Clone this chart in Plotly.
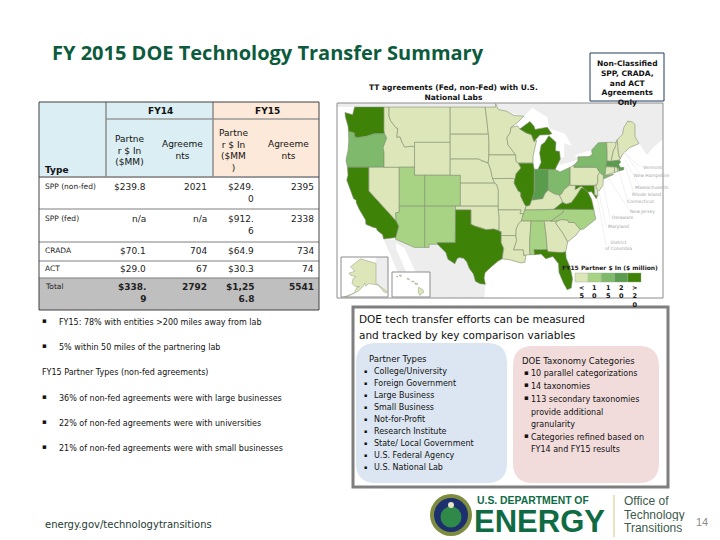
import numpy as np
import plotly.graph_objects as go

# ---------- data ----------
TITLE = "FY 2015 DOE Technology Transfer Summary"
table_types = ["SPP (non-fed)", "SPP (fed)", "CRADA", "ACT", "Total"]
fy14_partner = ["$239.8", "n/a", "$70.1", "$29.0", "$338.<br>9"]
fy14_agreements = ["2021", "n/a", "704", "67", "2792"]
fy15_partner = ["$249.<br>0", "$912.<br>6", "$64.9", "$30.3", "$1,25<br>6.8"]
fy15_agreements = ["2395", "2338", "734", "74", "5541"]

left_lines = ["FY15: 78% with entities >200 miles away from lab",
              "5% within 50 miles of the partnering lab",
              "FY15 Partner Types (non-fed agreements)",
              "36% of non-fed agreements were with large businesses",
              "22% of non-fed agreements were with universities",
              "21% of non-fed agreements were with small businesses"]
partner_types = ["College/University", "Foreign Government", "Large Business", "Small Business",
                 "Not-for-Profit", "Research Institute", "State/ Local Government",
                 "U.S. Federal Agency", "U.S. National Lab"]
taxonomy_lines = ["10 parallel categorizations", "14 taxonomies", "113 secondary taxonomies",
                  "provide additional", "granularity", "Categories refined based on",
                  "FY14 and FY15 results"]
legend_labels = ["&lt;<br>5", "1<br>0", "1<br>5", "2<br>0", "&gt;<br>2<br>0"]
map_colors = ["#dde6b8", "#a9d384", "#7fb96c", "#5a9c4e", "#3f8208"]

state_class = dict(WA=4, OR=2, CA=4, NV=0, ID=0, MT=0, WY=0, UT=1, CO=1, AZ=1, NM=1, ND=0, SD=0, NE=0, KS=0,
                   OK=0, TX=4, MN=0, IA=0, MO=0, AR=0, LA=0, WI=0, IL=4, IN=3, MI=4, OH=2, KY=0, TN=1, MS=0,
                   AL=1, GA=0, FL=4, SC=0, NC=1, VA=4, WV=0, MD=4, DE=0, PA=0, NJ=0, NY=2, VT=0, NH=0, ME=0,
                   MA=3, RI=0, CT=0)

state_outlines = {
 "WA": [[(-124.7,48.4),(-123.2,48.15),(-122.8,49),(-117.03,49),(-117.04,46.42),(-116.92,46),(-118.98,46),(-119.3,45.93),(-120.5,45.7),(-121.2,45.65),(-122.3,45.55),(-122.75,45.65),(-122.9,46.1),(-123.4,46.2),(-124,46.27),(-124.1,46.9),(-124.6,47.9)]],
 "OR": [[(-124,46.27),(-123.4,46.2),(-122.9,46.1),(-122.75,45.65),(-122.3,45.55),(-121.2,45.65),(-120.5,45.7),(-119.3,45.93),(-118.98,46),(-116.92,46),(-116.5,45.5),(-116.85,44.95),(-117.2,44.4),(-117.03,43.8),(-117.03,42),(-124.2,42),(-124.5,42.85),(-124.1,44),(-123.95,45.2)]],
 "CA": [[(-124.2,42),(-120,42),(-120,39),(-114.63,35),(-114.13,34.3),(-114.5,33.4),(-114.72,32.72),(-117.12,32.53),(-117.3,33.1),(-118.4,33.75),(-118.5,34.03),(-119.2,34.15),(-120.6,34.55),(-120.65,35.15),(-121.9,36.6),(-122.5,37.5),(-122.5,37.8),(-123,38),(-123.8,39.3),(-124.35,40.4),(-124.1,41)]],
 "NV": [[(-120,42),(-114.04,42),(-114.04,36.2),(-114.75,36.1),(-114.63,35),(-120,39)]],
 "ID": [[(-117.03,49),(-116.05,49),(-116.05,48),(-115.7,47.45),(-114.7,46.7),(-114.35,46.65),(-114.5,45.6),(-113.9,45.65),(-113.45,44.95),(-113,44.45),(-111.5,44.55),(-111.05,44.48),(-111.05,42),(-117.03,42),(-117.03,43.8),(-117.2,44.4),(-116.85,44.95),(-116.5,45.5),(-116.92,46),(-117.04,46.42)]],
 "MT": [[(-116.05,49),(-104.05,49),(-104.05,45),(-111.05,45),(-111.05,44.48),(-111.5,44.55),(-113,44.45),(-113.45,44.95),(-113.9,45.65),(-114.5,45.6),(-114.35,46.65),(-114.7,46.7),(-115.7,47.45),(-116.05,48)]],
 "WY": [[(-111.05,45),(-104.05,45),(-104.05,41),(-111.05,41)]],
 "UT": [[(-114.04,42),(-111.05,42),(-111.05,41),(-109.05,41),(-109.05,37),(-114.04,37)]],
 "CO": [[(-109.05,41),(-102.05,41),(-102.05,37),(-109.05,37)]],
 "AZ": [[(-114.04,37),(-109.05,37),(-109.05,31.33),(-111.07,31.33),(-114.8,32.5),(-114.72,32.72),(-114.5,33.4),(-114.13,34.3),(-114.63,35),(-114.75,36.1),(-114.04,36.2)]],
 "NM": [[(-109.05,37),(-103,37),(-103.05,32),(-106.6,32),(-106.53,31.78),(-108.2,31.78),(-108.2,31.33),(-109.05,31.33)]],
 "ND": [[(-104.05,49),(-97.2,49),(-96.85,47.5),(-96.55,45.95),(-104.05,45.95)]],
 "SD": [[(-104.05,45.95),(-96.55,45.95),(-96.45,45.3),(-96.45,43.5),(-96.6,42.5),(-97.9,42.8),(-98.5,43),(-104.05,43)]],
 "NE": [[(-104.05,43),(-98.5,43),(-97.9,42.8),(-96.6,42.5),(-96.1,41.7),(-95.9,41),(-95.3,40),(-102.05,40),(-102.05,41),(-104.05,41)]],
 "KS": [[(-102.05,40),(-95.3,40),(-94.9,39.8),(-94.6,39.1),(-94.62,37),(-102.05,37)]],
 "OK": [[(-103,37),(-94.62,37),(-94.43,35.4),(-94.48,33.64),(-95.5,33.9),(-97,33.8),(-98.1,34.1),(-99.2,34.3),(-100,34.56),(-100,36.5),(-103,36.5)]],
 "TX": [[(-106.53,31.78),(-106.6,32),(-103.05,32),(-103,36.5),(-100,36.5),(-100,34.56),(-99.2,34.3),(-98.1,34.1),(-97,33.8),(-95.5,33.9),(-94.04,33.55),(-94.04,31.99),(-93.55,31.2),(-93.85,29.7),(-94.7,29.35),(-95.9,28.6),(-97.2,27.7),(-97.4,26.9),(-97.15,25.95),(-98.2,26.05),(-99.1,26.4),(-99.5,27.5),(-100.3,28.3),(-100.8,29.25),(-101.4,29.77),(-102.3,29.88),(-102.7,29.7),(-103.15,28.98),(-104.5,29.65),(-104.9,30.6)]],
 "MN": [[(-97.2,49),(-95.15,49),(-95.15,49.38),(-94.6,48.72),(-93,48.55),(-91.5,48.07),(-89.6,48),(-90.8,47.3),(-92.1,46.75),(-92.3,46.1),(-92.9,45.6),(-92.75,44.75),(-91.2,43.5),(-96.45,43.5),(-96.45,45.3),(-96.55,45.95),(-96.85,47.5)]],
 "IA": [[(-96.45,43.5),(-91.2,43.5),(-91.1,42.7),(-90.65,42.5),(-90.15,41.9),(-91.1,41.2),(-91.4,40.4),(-91.7,40.6),(-95.75,40.58),(-95.9,41),(-96.1,41.7),(-96.6,42.5)]],
 "MO": [[(-95.75,40.58),(-91.7,40.6),(-91.4,40.4),(-91.5,40),(-90.7,39),(-90.2,38.8),(-90.2,38.3),(-89.5,37.3),(-89.15,37),(-89.7,36),(-90.37,36),(-90.15,36.5),(-94.62,36.5),(-94.62,37),(-94.6,39.1),(-94.9,39.8),(-95.3,40)]],
 "AR": [[(-94.62,36.5),(-90.15,36.5),(-90.37,36),(-89.7,36),(-90.1,35),(-90.6,34.7),(-91.1,33.9),(-91.17,33),(-94.04,33),(-94.04,33.55),(-94.48,33.64),(-94.43,35.4)]],
 "LA": [[(-94.04,33),(-91.17,33),(-91,32.3),(-91.6,31),(-89.73,31),(-89.6,30.2),(-89.2,30.15),(-89.4,29.2),(-90.2,29.1),(-91.3,29.3),(-92.3,29.55),(-93.85,29.7),(-93.55,31.2),(-94.04,31.99)]],
 "WI": [[(-92.1,46.75),(-90.8,46.9),(-90.4,46.55),(-89.1,46.1),(-88.1,45.9),(-87.6,45.1),(-87.1,45.25),(-87.5,44.3),(-87.8,43.3),(-87.8,42.5),(-90.65,42.5),(-91.1,42.7),(-91.2,43.5),(-92.75,44.75),(-92.9,45.6),(-92.3,46.1)]],
 "IL": [[(-90.65,42.5),(-87.8,42.5),(-87.55,41.7),(-87.53,39.3),(-87.6,38.7),(-88.05,37.8),(-88.45,37.1),(-89.15,37),(-89.5,37.3),(-90.2,38.3),(-90.2,38.8),(-90.7,39),(-91.5,40),(-91.4,40.4),(-91.1,41.2),(-90.15,41.9)]],
 "IN": [[(-87.53,41.75),(-86.8,41.76),(-84.8,41.76),(-84.82,39.1),(-85.4,38.7),(-85.9,38),(-86.8,37.95),(-88.05,37.8),(-87.6,38.7),(-87.53,39.3)]],
 "OH": [[(-84.8,41.72),(-83.45,41.73),(-82.5,41.4),(-81.3,41.75),(-80.52,42),(-80.52,40.64),(-80.7,39.7),(-81.7,39.2),(-82.2,38.6),(-82.6,38.45),(-83.7,38.65),(-84.82,39.1)]],
 "MI": [[(-86.8,41.76),(-84.8,41.76),(-83.45,41.73),(-83.1,42.2),(-82.45,43),(-82.6,43.9),(-83.4,44),(-83.3,45),(-84.7,45.78),(-85.5,45),(-86.2,44.7),(-86.5,43.7),(-86.2,42.6)],
        [(-90.4,46.55),(-88.4,47.4),(-87.6,46.85),(-87.4,46.5),(-85,46.75),(-84.1,46),(-84.8,45.9),(-86.5,45.85),(-87.6,45.1),(-88.1,45.9),(-89.1,46.1)]],
 "KY": [[(-89.15,37),(-88.45,37.1),(-88.05,37.8),(-86.8,37.95),(-85.9,38),(-85.4,38.7),(-84.82,39.1),(-83.7,38.65),(-82.6,38.45),(-81.97,37.54),(-83.68,36.6),(-88.05,36.5),(-89.4,36.5)]],
 "TN": [[(-90.1,35),(-89.7,36),(-89.4,36.5),(-88.05,36.5),(-83.68,36.6),(-81.68,36.59),(-82,36.1),(-84.32,35)]],
 "MS": [[(-91.17,33),(-91.1,33.9),(-90.6,34.7),(-90.1,35),(-88.2,35),(-88.47,31.9),(-88.4,30.3),(-89.6,30.2),(-89.73,31),(-91.6,31),(-91,32.3)]],
 "AL": [[(-88.2,35),(-85.6,35),(-85.2,32.9),(-85,31),(-87.6,31),(-87.5,30.3),(-88.4,30.3),(-88.47,31.9)]],
 "GA": [[(-85.6,35),(-83.1,35),(-83.35,34.7),(-81.9,33.3),(-81,32.1),(-81.4,30.7),(-82,30.6),(-82.2,30.57),(-84.86,30.7),(-85,31),(-85.2,32.9)]],
 "FL": [[(-87.6,31),(-85,31),(-84.86,30.7),(-82.2,30.57),(-82,30.6),(-81.4,30.7),(-81.3,29.8),(-80.5,28.4),(-80.05,26.8),(-80.3,25.4),(-81.1,25.15),(-81.8,26.1),(-82.7,27.7),(-82.8,29),(-83.9,30.05),(-85.3,29.7),(-86.2,30.4),(-87.5,30.3)]],
 "SC": [[(-83.1,35),(-82.3,35.2),(-81,35.15),(-80.8,34.82),(-79.67,34.8),(-78.55,33.85),(-79.3,33.1),(-81,32.1),(-81.9,33.3),(-83.35,34.7)]],
 "NC": [[(-84.32,35),(-82,36.1),(-81.68,36.59),(-75.87,36.55),(-75.5,35.25),(-76.5,34.7),(-77.9,33.9),(-78.55,33.85),(-79.67,34.8),(-80.8,34.82),(-81,35.15),(-82.3,35.2),(-83.1,35)]],
 "VA": [[(-83.68,36.6),(-81.97,37.54),(-81.3,37.3),(-80.3,37.5),(-79.3,38.4),(-78.35,39.4),(-77.75,39.3),(-77.05,38.85),(-76.3,37.9),(-76,37),(-75.87,36.55),(-81.68,36.59)]],
 "WV": [[(-81.97,37.54),(-82.6,38.45),(-82.2,38.6),(-81.7,39.2),(-80.7,39.7),(-80.52,40.64),(-80.52,39.72),(-79.48,39.72),(-79.48,39.2),(-78.35,39.65),(-77.75,39.3),(-78.35,39.4),(-79.3,38.4),(-80.3,37.5),(-81.3,37.3)]],
 "MD": [[(-79.48,39.72),(-75.79,39.72),(-75.7,38.46),(-75.05,38.45),(-75.4,38),(-76.3,38.9),(-77.05,38.85),(-77.75,39.3),(-78.35,39.65),(-79.48,39.2)]],
 "DE": [[(-75.79,39.72),(-75.4,39.8),(-75.05,38.45),(-75.7,38.46)]],
 "PA": [[(-80.52,42),(-79.76,42.27),(-79.76,42),(-75.35,42),(-74.7,41.36),(-75.1,40.95),(-75.1,40.1),(-75.4,39.8),(-75.79,39.72),(-80.52,39.72)]],
 "NJ": [[(-74.7,41.36),(-74,40.98),(-74,40.5),(-74.1,39.7),(-74.9,38.95),(-75.5,39.5),(-75.1,40.1),(-75.1,40.95)]],
 "NY": [[(-79.76,42.27),(-79,42.75),(-79,43.27),(-76.8,43.3),(-76.2,43.55),(-76.3,44.1),(-75,44.95),(-73.35,45),(-73.25,43.6),(-73.27,42.75),(-73.5,42.05),(-73.65,41),(-72,41.1),(-73.9,40.55),(-74,40.98),(-74.7,41.36),(-75.35,42),(-79.76,42)]],
 "VT": [[(-73.35,45),(-71.5,45),(-71.6,44.5),(-72.05,44),(-72.46,42.73),(-73.27,42.75),(-73.25,43.6)]],
 "NH": [[(-71.5,45),(-71.3,45.3),(-70.97,43.4),(-70.7,43.05),(-70.85,42.87),(-72.46,42.73),(-72.05,44),(-71.6,44.5)]],
 "ME": [[(-71.3,45.3),(-70.25,45.95),(-70,46.7),(-69.2,47.45),(-68.3,47.35),(-67.8,47.05),(-67.8,45.7),(-67,44.85),(-68.8,44.4),(-70.2,43.6),(-70.7,43.05),(-70.97,43.4)]],
 "MA": [[(-73.5,42.05),(-73.27,42.75),(-72.46,42.73),(-70.85,42.87),(-70.6,42.65),(-71,42.3),(-70.6,41.95),(-70,42),(-70,41.7),(-71.12,41.5),(-71.38,42.02),(-71.8,42.02)]],
 "RI": [[(-71.8,42.02),(-71.38,42.02),(-71.12,41.5),(-71.85,41.32)]],
 "CT": [[(-73.5,42.05),(-71.8,42.02),(-71.85,41.32),(-73.65,41)]],
}
neighbour_land = [
 [(-127,49),(-123,49),(-95.15,49),(-94.6,48.72),(-89.6,48),(-88,48.9),(-85,47.9),(-84.6,46.6),(-81.5,46),(-80.2,44.6),(-81.7,44.9),(-81.7,43.3),(-82.45,43),(-83.1,42.2),(-80,42.7),(-79,43),(-79.6,43.5),(-76.3,44.1),(-75,44.95),(-73.35,45),(-71.5,45),(-71.3,45.3),(-70.25,45.95),(-70,46.7),(-69.2,47.45),(-68.3,47.35),(-67.8,47.05),(-67.8,45.7),(-67,44.9),(-65.5,43.5),(-64,44.5),(-62,45.5),(-62,51),(-127,51)],
 [(-114.8,32.5),(-111.07,31.33),(-108.2,31.33),(-108.2,31.78),(-106.53,31.78),(-104.9,30.6),(-104.5,29.65),(-103.15,28.98),(-102.7,29.7),(-102.3,29.88),(-101.4,29.77),(-100.8,29.25),(-100.3,28.3),(-99.5,27.5),(-99.1,26.4),(-98.2,26.05),(-97.15,25.95),(-97.7,20),(-105,20),(-109,25),(-111,28),(-113,31.2),(-114.8,32)],
 [(-117.12,32.53),(-114.8,32.4),(-114.6,31),(-112.5,27.5),(-110,23.5),(-112,24.8),(-114.5,28),(-116,30.5)],
]
alaska = [[(-141,69.65),(-141,60.3),(-139,59.9),(-137,58.9),(-135,58.2),(-130,55.9),(-131,55),(-133.5,56),(-136,58),(-139.5,59.7),(-144,60),(-148,60.5),(-151.5,59.2),(-152,60.8),(-154,59),(-158,56.5),(-163,54.9),(-160,58.5),(-157.5,58.8),(-162,59),(-165,60.5),(-164,63),(-161,64),(-166.5,64.6),(-168,65.6),(-162,66.5),(-166.5,68.3),(-156.5,71.3),(-148,70.4)],
          [(-163,54.9),(-168,53.5),(-176,51.8),(-168,53.2)]]
alaska_neighbour = [(-141,73),(-129,73),(-129,55),(-130,55.9),(-135,58.2),(-137,58.9),(-139,59.9),(-141,60.3)]
hawaii = [[(-155.9,20.25),(-155.1,19.9),(-154.8,19.5),(-155.65,18.95),(-155.95,19.5)],
          [(-156.7,20.95),(-156,20.8),(-156.4,20.6)],
          [(-157.3,21.2),(-156.75,21.18),(-157.2,21.05)],
          [(-158.25,21.55),(-157.7,21.4),(-158,21.7)],
          [(-159.8,22.1),(-159.3,22.15),(-159.45,21.88)],
          [(-160.25,22),(-160.05,21.98),(-160.15,21.8)]]
east_labels = ["Vermont", "New Hampshire", "Massachusetts", "Rhode Island", "Connecticut",
               "New Jersey", "Delaware", "Maryland", "District<br>of Columbia"]

# ---------- layout constants ----------
W, H = 720, 540
BODY = "DejaVu Sans"
px = lambda x: x / W
py = lambda y: 1 - y / H
merc = lambda lat: np.log(np.tan(np.pi / 4 + np.radians(lat) / 2))

annotations, shapes = [], []


def text(x, y, s, size=8, color="#111111", anchor="left", bold=False, font=BODY, valign="middle", height=None):
    a = dict(x=px(x), y=py(y), xref="paper", yref="paper", text=f"<b>{s}</b>" if bold else s,
             showarrow=False, xanchor=anchor, yanchor=valign, align=anchor,
             font=dict(size=size, color=color, family=font), borderpad=0, borderwidth=0)
    if height:
        a["height"] = height
    annotations.append(a)


def rect(x0, y0, x1, y1, fill="rgba(0,0,0,0)", line=None, lw=1, layer="above"):
    shapes.append(dict(type="rect", xref="paper", yref="paper", x0=px(x0), x1=px(x1), y0=py(y0), y1=py(y1),
                       fillcolor=fill, line=dict(color=line or "rgba(0,0,0,0)", width=lw if line else 0), layer=layer))


def hline(x0, x1, y, color="#808080", lw=1):
    shapes.append(dict(type="line", xref="paper", yref="paper", x0=px(x0), x1=px(x1), y0=py(y), y1=py(y),
                       line=dict(color=color, width=lw)))


def vline(x, y0, y1, color="#808080", lw=1):
    shapes.append(dict(type="line", xref="paper", yref="paper", x0=px(x), x1=px(x), y0=py(y0), y1=py(y1),
                       line=dict(color=color, width=lw)))


def seg(x0, y0, x1, y1, color="#e2e2e2", lw=0.5):
    shapes.append(dict(type="line", xref="paper", yref="paper", x0=px(x0), x1=px(x1), y0=py(y0), y1=py(y1),
                       line=dict(color=color, width=lw)))


def circle(cx, cy, r, fill, line=None, lw=0):
    shapes.append(dict(type="circle", xref="paper", yref="paper", x0=px(cx - r), x1=px(cx + r),
                       y0=py(cy + r), y1=py(cy - r), fillcolor=fill,
                       line=dict(color=line or fill, width=lw)))


def rounded(x0, y0, x1, y1, r, fill):
    p = (f"M {px(x0+r)} {py(y0)} L {px(x1-r)} {py(y0)} Q {px(x1)} {py(y0)} {px(x1)} {py(y0+r)} "
         f"L {px(x1)} {py(y1-r)} Q {px(x1)} {py(y1)} {px(x1-r)} {py(y1)} L {px(x0+r)} {py(y1)} "
         f"Q {px(x0)} {py(y1)} {px(x0)} {py(y1-r)} L {px(x0)} {py(y0+r)} Q {px(x0)} {py(y0)} {px(x0+r)} {py(y0)} Z")
    shapes.append(dict(type="path", xref="paper", yref="paper", path=p, fillcolor=fill, line=dict(width=0), layer="below"))


def ring_xy(polys):
    xs, ys = [], []
    for poly in polys:
        a = np.array(poly + [poly[0]], dtype=float)
        xs += [float(v) for v in a[:, 0]] + [None]
        ys += [float(v) for v in merc(a[:, 1])] + [None]
    return xs, ys


fig = go.Figure()


def add_land(polys, fill, line, lw=0.6, ax=""):
    x, y = ring_xy(polys)
    fig.add_trace(go.Scatter(x=x, y=y, mode="lines", fill="toself", fillcolor=fill,
                             line=dict(color=line, width=lw), hoverinfo="skip", showlegend=False,
                             xaxis="x" + ax, yaxis="y" + ax))


# ---------- map ----------
add_land(neighbour_land, "#ededed", "#ededed", 0)
for st, polys in state_outlines.items():
    add_land(polys, map_colors[state_class[st]], "#7f8f72", 0.6)

AX = dict(visible=True, showticklabels=False, ticks="", showgrid=False, zeroline=False, showline=False,
          fixedrange=True, autorange=False)
MAP_X, MAP_Y = (337, 663), (103, 298)
AK_X, AK_Y = (341, 388), (257, 297)
HI_X, HI_Y = (392, 430), (272, 297)
ak_range, hi_range = (-176, -129), (-161.2, -153.6)
ak_merc, hi_merc = (1.08, 1.838), (0.3325, 0.4055)


def box(rng_x, rng_y):
    return [(rng_x[0], rng_y[0]), (rng_x[1], rng_y[0]), (rng_x[1], rng_y[1]), (rng_x[0], rng_y[1]), (rng_x[0], rng_y[0])]


for ax, rx, ry in (("2", ak_range, ak_merc), ("3", hi_range, hi_merc)):
    b = box(rx, ry)
    fig.add_trace(go.Scatter(x=[p[0] for p in b], y=[p[1] for p in b], mode="lines", fill="toself",
                             fillcolor="white", line=dict(width=0), hoverinfo="skip", showlegend=False,
                             xaxis="x" + ax, yaxis="y" + ax))
add_land([alaska_neighbour], "#ededed", "#ededed", 0, "2")
add_land(alaska, map_colors[0], "#8f9c80", 0.5, "2")
add_land(hawaii, map_colors[0], "#8f9c80", 0.5, "3")

rect(MAP_X[0], MAP_Y[0], MAP_X[1], MAP_Y[1], line="#8c8c8c", lw=1)
rect(AK_X[0], AK_Y[0], AK_X[1], AK_Y[1], line="#8c8c8c", lw=1)
rect(HI_X[0], HI_Y[0], HI_X[1], HI_Y[1], line="#8c8c8c", lw=1)

# faint call-outs on the east coast
label_pos = [(652, 167), (652, 175), (652, 187), (646, 194), (640, 202), (642, 211), (622, 218), (618, 226), (618, 245)]
label_src = [(613, 142), (620, 146), (625, 160), (625, 165), (618, 168), (608, 178), (603, 183), (598, 188), (596, 190)]
for name, (lx, ly), (sx, sy) in zip(east_labels, label_pos, label_src):
    text(lx, ly, name, size=4.5, color="#a5a5a5", anchor="center")
    seg(sx, sy, lx - 12, ly)

# map legend
text(610, 267, "FY15 Partner $ In ($ million)", size=6, anchor="center", bold=True, color="#222222")
for i, (c, lab) in enumerate(zip(map_colors, legend_labels)):
    x0 = 575 + i * 13.2
    rect(x0, 273, x0 + 13.2, 282, fill=c, line="#9aa98a", lw=0.4)
    text(x0 + 6.6, 284, lab, size=6.5, anchor="center", bold=True, valign="top")

# map headings
text(453, 92, "TT agreements (Fed, non-Fed) with U.S.<br>National Labs", size=7.5, anchor="center", bold=True)
rect(590, 53, 664, 101, line="#1f3a5f", lw=1)
text(627, 83, "Non-Classified<br>SPP, CRADA,<br>and ACT<br>Agreements<br>Only", size=7.5, anchor="center", bold=True)

# ---------- title ----------
text(52, 53, TITLE, size=20, color="#0c5b3d", bold=True, font="Open Sans")

# ---------- table ----------
rect(39, 102, 213, 177, fill="#daeef3", layer="below")
rect(213, 102, 319, 177, fill="#fde9d9", layer="below")
rect(39, 278, 319, 310, fill="#bfbfbf", layer="below")
for y, lw in ((119, 1.5), (177, 2), (209, 1), (242, 1), (261, 1), (278, 1)):
    hline(106 if y == 119 else 39, 319, y, "#999999" if y in (119, 177) else "#7f7f7f", lw)
vline(106, 102, 177, "#8c8c8c", 1.5)
vline(213, 102, 177, "#8c8c8c", 1.5)
rect(39, 102, 319, 310, line="#404040", lw=1)

text(160, 111, "FY14", size=9, anchor="center", bold=True)
text(267, 111, "FY15", size=9, anchor="center", bold=True)
text(45, 170, "Type", size=9, bold=True)
text(129, 150, "Partne<br>r $ In<br>($MM)", size=9, anchor="center")
text(182, 150, "Agreeme<br>nts", size=9, anchor="center")
text(233, 150, "Partne<br>r $ In<br>($MM<br>)", size=9, anchor="center")
text(288, 150, "Agreeme<br>nts", size=9, anchor="center")

row_y = [182, 214, 246, 264, 282]
for i, rt in enumerate(table_types):
    b = rt == "Total"
    text(45, row_y[i], rt, size=7.5, valign="top", color="#222222")
    text(146, row_y[i], fy14_partner[i], size=9, anchor="right", bold=b, valign="top", color="#222222")
    text(207, row_y[i], fy14_agreements[i], size=9, anchor="right", bold=b, valign="top", color="#222222")
    text(254, row_y[i], fy15_partner[i], size=9, anchor="right", bold=b, valign="top", color="#222222")
    text(314, row_y[i], fy15_agreements[i], size=9, anchor="right", bold=b, valign="top", color="#222222")

# ---------- left notes ----------
left_y = [322, 347, 372, 398, 423, 448]
for i, (line, y) in enumerate(zip(left_lines, left_y)):
    if i == 2:
        text(42, y, line, size=8)
    else:
        text(42, y - 1, "▪", size=7)
        text(59, y, line, size=8)

# ---------- comparison box ----------
rect(353, 307, 668, 487, line="#7f7f7f", lw=3)
text(359, 319, "DOE tech transfer efforts can be measured", size=10.5, color="#111111")
text(359, 335, "and tracked by key comparison variables", size=10.5, color="#111111")
rounded(356, 343, 507, 483, 20, "#dce6f2")
rounded(513, 346, 659, 483, 20, "#f2dcdb")
text(369, 359, "Partner Types", size=8.5)
for i, item in enumerate(partner_types):
    y = 371 + i * 12
    text(364, y, "▪", size=5)
    text(374, y, item, size=8)
text(522, 361, "DOE Taxonomy Categories", size=8.5)
tax_y = [374, 386, 399, 412, 424, 437, 449]
for i, (line, y) in enumerate(zip(taxonomy_lines, tax_y)):
    if i not in (3, 4, 6):
        text(524, y - 1, "▪", size=7)
    text(531, y, line, size=8)

# ---------- footer ----------
text(45, 524, "energy.gov/technologytransitions", size=10, color="#1d3b2f")
GREEN = "#0f6b44"
circle(451, 515, 21, "#7d8c3f")
circle(451, 515, 17, "#1c2f6e")
circle(451, 517, 10.5, "#2f8a4a")
circle(451, 505, 3, "#e8e4c8")
text(477, 500, "U.S. DEPARTMENT OF", size=10.4, color=GREEN, bold=True, font="Liberation Sans", height=9)
text(474, 521, "ENERGY", size=31, color=GREEN, bold=True, font="Liberation Sans", height=24)
vline(614, 495, 537, "#d9c77e", 1)
text(624, 501, "Office of", size=12, color="#3d5a4c", font="Liberation Sans", height=12)
text(624, 515, "Technology", size=12, color="#3d5a4c", font="Liberation Sans", height=12)
text(624, 528, "Transitions", size=12, color="#3d5a4c", font="Liberation Sans", height=12)
text(696, 522, "14", size=11, color="#8c8c8c", font="Liberation Sans")


def dom_x(r):
    return [px(r[0]), px(r[1])]


def dom_y(r):
    return [py(r[1]), py(r[0])]


fig.update_layout(
    width=W, height=H, margin=dict(l=0, r=0, t=0, b=0), autosize=False,
    paper_bgcolor="white", plot_bgcolor="rgba(0,0,0,0)", showlegend=False,
    annotations=annotations, shapes=shapes,
    xaxis=dict(domain=dom_x(MAP_X), range=[-126.26, -62.3], **AX),
    yaxis=dict(domain=dom_y(MAP_Y), range=[0.4295, 0.9956], **AX),
    xaxis2=dict(domain=dom_x(AK_X), range=list(ak_range), anchor="y2", **AX),
    yaxis2=dict(domain=dom_y(AK_Y), range=list(ak_merc), anchor="x2", **AX),
    xaxis3=dict(domain=dom_x(HI_X), range=list(hi_range), anchor="y3", **AX),
    yaxis3=dict(domain=dom_y(HI_Y), range=list(hi_merc), anchor="x3", **AX),
)
fig.write_html("out.html", config=dict(displayModeBar=False),
               post_script="document.body.style.margin='0';document.body.style.overflow='hidden';")
